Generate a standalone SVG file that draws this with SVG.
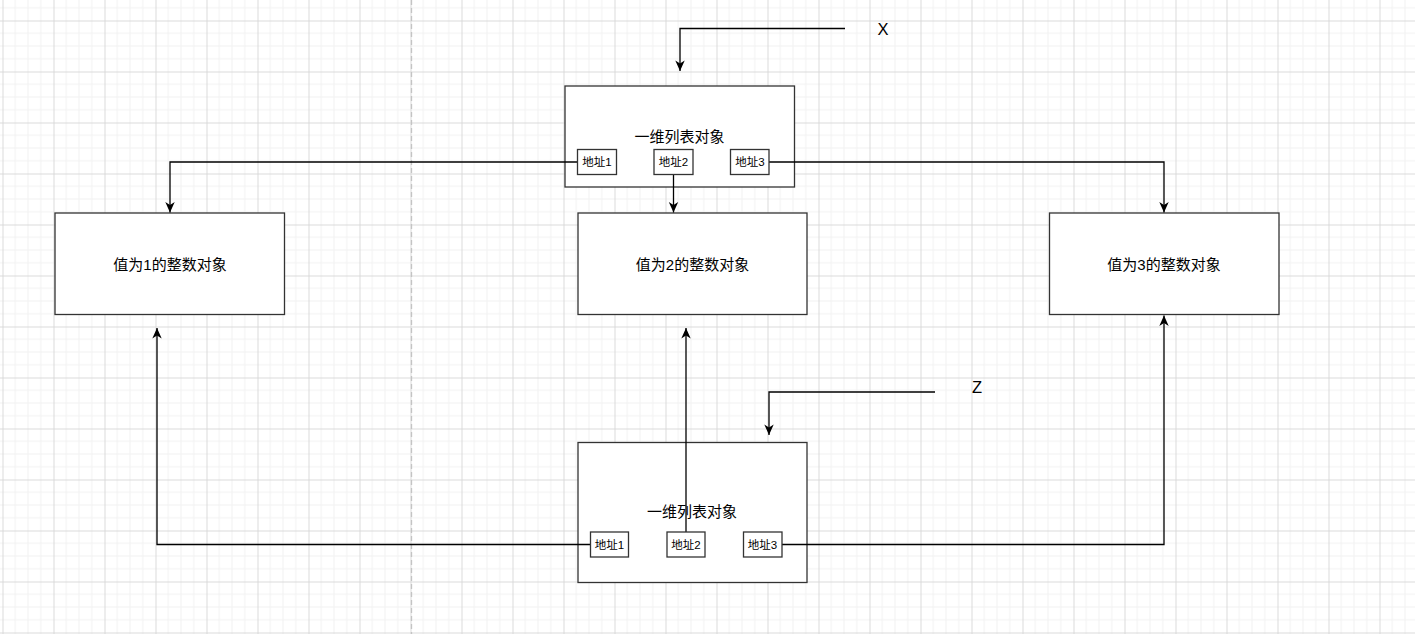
<svg xmlns="http://www.w3.org/2000/svg" width="1415" height="634" viewBox="0 0 1415 634">
<style>
.box{fill:#fff;stroke:#333;stroke-width:1.3}
.lbl{font-family:"Liberation Sans","Noto Sans CJK SC",sans-serif;font-size:15px;fill:#000;text-anchor:middle;dominant-baseline:central}
.sm{font-family:"Liberation Sans","Noto Sans CJK SC",sans-serif;font-size:11.5px;fill:#000;text-anchor:middle;dominant-baseline:central}
.var{font-family:"Liberation Sans","Noto Sans",sans-serif;font-size:16.5px;fill:#000;text-anchor:middle;dominant-baseline:central}
.edge{fill:none;stroke:#000;stroke-width:1.3;marker-end:url(#arr)}
</style>
<defs>
<pattern id="grid" patternUnits="userSpaceOnUse" x="2.5" y="20.5" width="51" height="51">
<path d="M12.75,0V51M25.5,0V51M38.25,0V51M0,12.75H51M0,25.5H51M0,38.25H51" stroke="#f1f1f1" stroke-width="1" fill="none"/>
<path d="M0.5,0V51M0,0.5H51" stroke="#dadada" stroke-width="1" fill="none"/>
</pattern>
<marker id="arr" markerUnits="userSpaceOnUse" markerWidth="14" markerHeight="12" viewBox="-11 -6 12 12" refX="0" refY="0" orient="auto">
<path d="M0,0 L-10.5,-4.7 L-7.5,0 L-10.5,4.7 Z" fill="#000"/>
</marker>
</defs>
<rect width="1415" height="634" fill="#fff"/>
<rect width="1415" height="634" fill="url(#grid)"/>
<line x1="411.5" y1="0" x2="411.5" y2="634" stroke="#c4c4c4" stroke-width="1.3" stroke-dasharray="5,3"/>

<g id="list-x">
<rect class="box" x="565" y="86" width="229.5" height="101"/>
<text class="lbl" x="679.5" y="136">一维列表对象</text>
</g>
<g id="list-z">
<rect class="box" x="578" y="442.5" width="229" height="140"/>
<text class="lbl" x="692" y="511">一维列表对象</text>
</g>
<g id="int1">
<rect class="box" x="55" y="213" width="229.5" height="101.5"/>
<text class="lbl" x="170" y="264">值为1的整数对象</text>
</g>
<g id="int2">
<rect class="box" x="578" y="213" width="229" height="101.5"/>
<text class="lbl" x="692.5" y="264">值为2的整数对象</text>
</g>
<g id="int3">
<rect class="box" x="1049.5" y="213" width="229.5" height="101.5"/>
<text class="lbl" x="1164" y="264">值为3的整数对象</text>
</g>

<g id="connectors">
<path class="edge" d="M845,28.5H680V71"/>
<path class="edge" d="M935,392H769V435"/>
<path class="edge" d="M577.5,162H170V212.5"/>
<path class="edge" d="M673.5,174.5V212.5"/>
<path class="edge" d="M769,162H1164V212.5"/>
<path class="edge" d="M590.5,544.5H157V328"/>
<path class="edge" d="M686,532V328"/>
<path class="edge" d="M782,544.5H1164V315.5"/>
</g>

<g id="x-top-addr1"><rect class="box" x="577.5" y="149.5" width="39" height="25"/><text class="sm" x="597" y="162">地址1</text></g>
<g id="x-top-addr2"><rect class="box" x="654" y="149.5" width="39" height="25"/><text class="sm" x="673.5" y="162">地址2</text></g>
<g id="x-top-addr3"><rect class="box" x="730.5" y="149.5" width="38.5" height="25"/><text class="sm" x="750" y="162">地址3</text></g>
<g id="z-addr1"><rect class="box" x="590.5" y="532" width="38" height="25"/><text class="sm" x="609.5" y="544.5">地址1</text></g>
<g id="z-addr2"><rect class="box" x="667" y="532" width="38" height="25"/><text class="sm" x="686" y="544.5">地址2</text></g>
<g id="z-addr3"><rect class="box" x="743.5" y="532" width="38.5" height="25"/><text class="sm" x="762.5" y="544.5">地址3</text></g>

<g id="label-x"><text class="var" x="883" y="29">X</text></g>
<g id="label-z"><text class="var" x="977" y="387">Z</text></g>
</svg>
